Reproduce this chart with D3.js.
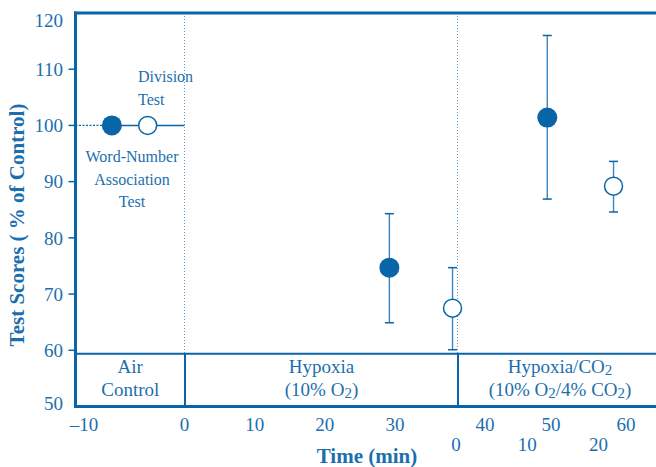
<!DOCTYPE html>
<html>
<head>
<meta charset="utf-8">
<script src="https://cdn.jsdelivr.net/npm/d3@7"></script>
<style>
  html, body { margin: 0; padding: 0; background: #fff; }
  svg { display: block; }
  text { font-family: "Liberation Serif", "Times New Roman", serif; }
</style>
</head>
<body>
<svg id="chart" width="656" height="467"></svg>
<script>
// Test scores as % of control during air, hypoxia and hypoxia/CO2 breathing
const yTickValues = [50, 60, 70, 80, 90, 100, 110, 120];
const timeTickValues = [-10, 0, 10, 20, 30, 40, 50, 60];
const co2TickValues = [0, 10, 20];

// phase of each measurement
const phases = ["air", "hypoxia", "co2"];
// time of each measurement (min): air/hypoxia on the main clock, co2 on its own clock
const wordNumberTimes = [-7.3, 29.2, 12.6];
const wordNumberMeans = [100, 74.7, 101.4];
const wordNumberLow = [null, 64.9, 86.9];
const wordNumberHigh = [null, 84.3, 116.0];

const divisionTimes = [-3.7, 38.2, 21.9];
const divisionMeans = [100, 67.5, 89.2];
const divisionLow = [null, 60.1, 84.6];
const divisionHigh = [null, 74.7, 93.6];

const bandLabels = [
  ["Air", "Control"],
  ["Hypoxia", "(10% O|2|)"],
  ["Hypoxia/CO|2|", "(10% O|2|/4% CO|2|)"]
];

const LINE = "#0765a8";
const TEXT = "#1c6fae";
const BAR = "#3b84c2";

const svg = d3.select("#chart");

const y = d3.scaleLinear().domain([50, 120]).range([406.5, 13]);
const xMain = d3.scaleLinear()
  .domain([-10, 0, 30, 40, 50, 60])
  .range([85, 184.5, 395, 485, 551, 626]);
const xHyp = d3.scaleLinear().domain([0, 30]).range([184.5, 395]);
const xCo2 = d3.scaleLinear().domain([0, 20]).range([457.5, 600]);

const axisX = 75.5;
const rightX = 656;
const bandTop = y(59.4);

function px(phase, t) {
  if (phase === "co2") return xCo2(t);
  if (phase === "hypoxia") return xHyp(t);
  return xMain(t);
}

// dotted phase boundaries inside the plot
[xMain(0), xCo2(0)].forEach(x => {
  svg.append("line")
    .attr("x1", x).attr("x2", x)
    .attr("y1", y(120)).attr("y2", bandTop)
    .attr("stroke", "#5e9bd0").attr("stroke-width", 1)
    .attr("stroke-dasharray", "1,2");
});

// control reference line at 100 %
const wn0 = px(phases[0], wordNumberTimes[0]);
svg.append("line")
  .attr("x1", axisX).attr("x2", wn0)
  .attr("y1", y(100)).attr("y2", y(100))
  .attr("stroke", LINE).attr("stroke-width", 1.3)
  .attr("stroke-dasharray", "2,1.5");
svg.append("line")
  .attr("x1", wn0).attr("x2", xMain(0))
  .attr("y1", y(100)).attr("y2", y(100))
  .attr("stroke", LINE).attr("stroke-width", 1.6);

// frame
svg.append("line").attr("x1", axisX - 1.5).attr("x2", rightX)
  .attr("y1", y(120)).attr("y2", y(120))
  .attr("stroke", LINE).attr("stroke-width", 3);
svg.append("line").attr("x1", axisX - 1.5).attr("x2", rightX)
  .attr("y1", y(50)).attr("y2", y(50))
  .attr("stroke", LINE).attr("stroke-width", 3);
svg.append("line").attr("x1", axisX).attr("x2", axisX)
  .attr("y1", y(120) - 1.5).attr("y2", y(50) + 1.5)
  .attr("stroke", LINE).attr("stroke-width", 3);

// phase band at the bottom
svg.append("line").attr("x1", axisX).attr("x2", rightX)
  .attr("y1", bandTop).attr("y2", bandTop)
  .attr("stroke", LINE).attr("stroke-width", 2);
const bandEdges = [axisX, xMain(0) + 0.5, xCo2(0) + 0.5, rightX];
[bandEdges[1], bandEdges[2]].forEach(x => {
  svg.append("line").attr("x1", x).attr("x2", x)
    .attr("y1", bandTop).attr("y2", y(50))
    .attr("stroke", LINE).attr("stroke-width", 2);
});

// write text with |subscript| segments
function richText(sel, str, subSize) {
  str.split("|").forEach((part, i) => {
    if (!part) return;
    const ts = sel.append("tspan").text(part);
    if (i % 2 === 1) {
      ts.attr("font-size", subSize).attr("dy", 2);
    } else if (i > 0) {
      ts.attr("dy", -2);
    }
  });
}

bandLabels.forEach((lines, i) => {
  const cx = (bandEdges[i] + bandEdges[i + 1]) / 2 + (i === 2 ? 3 : 0);
  lines.forEach((line, j) => {
    const t = svg.append("text")
      .attr("x", cx).attr("y", 372.5 + j * 23)
      .attr("text-anchor", "middle")
      .attr("font-size", 19).attr("fill", TEXT);
    richText(t, line, 15);
  });
});

// y ticks and labels
yTickValues.forEach(v => {
  if (v > 50 && v < 120) {
    svg.append("line")
      .attr("x1", axisX - 7).attr("x2", axisX)
      .attr("y1", y(v)).attr("y2", y(v))
      .attr("stroke", LINE).attr("stroke-width", 1.5);
  }
  svg.append("text")
    .attr("x", 63)
    .attr("y", Math.min(Math.max(y(v), 20), 403))
    .attr("dy", "0.35em")
    .attr("text-anchor", "end")
    .attr("font-size", 19).attr("fill", TEXT)
    .text(v);
});

// x tick labels: main clock and hypoxia/CO2 clock
timeTickValues.forEach(v => {
  svg.append("text")
    .attr("x", xMain(v) + (v < 0 ? -1 : 0)).attr("y", 431)
    .attr("text-anchor", "middle")
    .attr("font-size", 19).attr("fill", TEXT)
    .text(v < 0 ? "\u2013" + Math.abs(v) : v);
});
co2TickValues.forEach(v => {
  svg.append("text")
    .attr("x", xCo2(v) - 1.5).attr("y", 451)
    .attr("text-anchor", "middle")
    .attr("font-size", 19).attr("fill", TEXT)
    .text(v);
});

// axis titles
svg.append("text")
  .attr("x", 367).attr("y", 463)
  .attr("text-anchor", "middle")
  .attr("font-size", 21).attr("font-weight", "bold").attr("fill", TEXT)
  .text("Time (min)");
svg.append("text")
  .attr("transform", "translate(24,225) rotate(-90)")
  .attr("text-anchor", "middle")
  .attr("font-size", 21).attr("font-weight", "bold").attr("fill", TEXT)
  .text("Test Scores ( % of Control)");

// error bars and markers
function drawSeries(times, means, low, high, filled) {
  phases.forEach((ph, i) => {
    const cx = px(ph, times[i]);
    if (low[i] != null) {
      svg.append("line")
        .attr("x1", cx).attr("x2", cx)
        .attr("y1", y(high[i])).attr("y2", y(low[i]))
        .attr("stroke", BAR).attr("stroke-width", 1.4);
      [low[i], high[i]].forEach(v => {
        svg.append("line")
          .attr("x1", cx - 4.5).attr("x2", cx + 4.5)
          .attr("y1", y(v)).attr("y2", y(v))
          .attr("stroke", LINE).attr("stroke-width", 1.5);
      });
    }
    svg.append("circle")
      .attr("cx", cx).attr("cy", y(means[i]))
      .attr("r", filled ? 10 : 9)
      .attr("fill", filled ? LINE : "#fff")
      .attr("stroke", LINE).attr("stroke-width", filled ? 0 : 1.5);
  });
}
drawSeries(wordNumberTimes, wordNumberMeans, wordNumberLow, wordNumberHigh, true);
drawSeries(divisionTimes, divisionMeans, divisionLow, divisionHigh, false);

// test annotations
const annot = [
  { lines: ["Division", "Test"], x: 138, y: 82, anchor: "start" },
  { lines: ["Word-Number", "Association", "Test"], x: 132, y: 162, anchor: "middle" }
];
annot.forEach(a => {
  a.lines.forEach((ln, j) => {
    svg.append("text")
      .attr("x", a.x).attr("y", a.y + j * 22.5)
      .attr("text-anchor", a.anchor)
      .attr("font-size", 16).attr("fill", TEXT)
      .text(ln);
  });
});
</script>
</body>
</html>
